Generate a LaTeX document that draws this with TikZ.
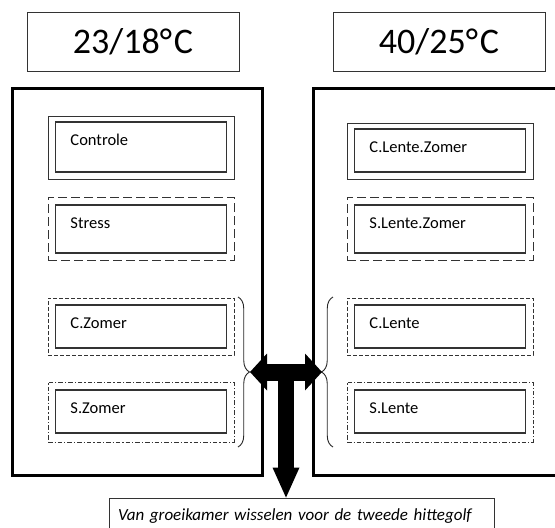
\documentclass[tikz,border=0pt]{standalone}
\usepackage{fontspec}
\setmainfont{Carlito}
\usetikzlibrary{arrows.meta,decorations.pathreplacing}

\begin{document}
\begin{tikzpicture}[x=1pt,y=-1pt,
  room/.style={draw,line width=3pt,minimum width=250pt,minimum height=387pt},
  temp/.style={draw=black!80,line width=0.8pt,minimum width=212pt,minimum height=59pt,
    font=\fontsize{36}{43}\selectfont},
  group/.style={draw=black!80,line width=0.9pt,minimum width=186pt},
  solid box/.style={group},
  dash box/.style={group,dash pattern=on 9pt off 4pt},
  dot box/.style={group,dash pattern=on 4pt off 2pt},
  dashdot box/.style={group,dash pattern=on 4.5pt off 2pt on 1.2pt off 2pt},
  plant/.style={draw=black!80,line width=1.1pt,minimum width=171pt,minimum height=43pt},
  tag/.style={anchor=base west,xshift=12pt,yshift=-24pt,font=\fontsize{16.5}{20}\selectfont},
  brace/.style={draw=black!85,line width=0.9pt,decorate,decoration={brace,amplitude=11.5pt}}]

  \clip (0,0) rectangle (555,528);

  % the two growth chambers
  \node[room] (cool) at (137,281.5) {};
  \node[room] (hot) at (438,281.5) {};
  \node[temp] (cool t) at (133,41.5) {23/18°\kern2pt C};
  \node[temp] (hot t) at (439,41.5) {40/25°\kern2pt C};

  % left chamber
  \node[solid box,minimum height=63pt] (g1) at (141,147.5) {};
  \node[plant,minimum height=50pt] (ctrl) at (141,147) {};
  \node[tag] (ctrl t) at (ctrl.north west) {Controle};
  \node[dash box,minimum height=63pt] (g2) at (141,228.5) {};
  \node[plant,minimum height=48pt] (str) at (141,229) {};
  \node[tag] (str t) at (str.north west) {Stress};
  \node[dot box,minimum height=57pt] (g3) at (141,326.5) {};
  \node[plant] (cz) at (141,326.5) {};
  \node[tag] (cz t) at (cz.north west) {C.Zomer};
  \node[dashdot box,minimum height=60pt] (g4) at (141,412) {};
  \node[plant] (sz) at (141,411.5) {};
  \node[tag] (sz t) at (sz.north west) {S.Zomer};

  % right chamber
  \node[solid box,minimum height=56pt] (h1) at (440,151) {};
  \node[plant] (clz) at (440,150.5) {};
  \node[tag] (clz t) at (clz.north west) {C.Lente.Zomer};
  \node[dash box,minimum height=63pt] (h2) at (440,228.5) {};
  \node[plant,minimum height=48pt] (slz) at (440,229) {};
  \node[tag] (slz t) at (slz.north west) {S.Lente.Zomer};
  \node[dot box,minimum height=57pt] (h3) at (440,326.5) {};
  \node[plant] (cl) at (440,326.5) {};
  \node[tag] (cl t) at (cl.north west) {C.Lente};
  \node[dashdot box,minimum height=60pt] (h4) at (440,412) {};
  \node[plant] (sl) at (440,411.5) {};
  \node[tag] (sl t) at (sl.north west) {S.Lente};

  % braces round the swapped groups
  \coordinate (lb top) at (238,297);
  \coordinate (lb bot) at (238,447);
  \coordinate (rb top) at (333,297);
  \coordinate (rb bot) at (333,447);
  \draw[brace] (lb top) -- (lb bot);
  \draw[brace] (rb bot) -- (rb top);

  \node[draw=black!80,line width=0.9pt,text width=367pt,inner xsep=9pt,minimum height=37pt,
    align=left,font=\fontsize{17}{20}\selectfont\itshape] (note) at (301.5,516.5)
    {Van groeikamer wisselen voor de tweede hittegolf};

  % swap arrows
  \coordinate (lt) at (250,372);
  \coordinate (rt) at (322,372);
  \coordinate (mid) at (286,372);
  \draw[line width=17pt,{Triangle[length=17pt,width=37pt,line width=0pt]}-{Triangle[length=17pt,width=37pt,line width=0pt]}] (lt) -- (rt);
  \draw[line width=16pt,-{Triangle[length=30pt,width=27pt,line width=0pt]}] (mid) -- (mid |- note.north);
\end{tikzpicture}
\end{document}
